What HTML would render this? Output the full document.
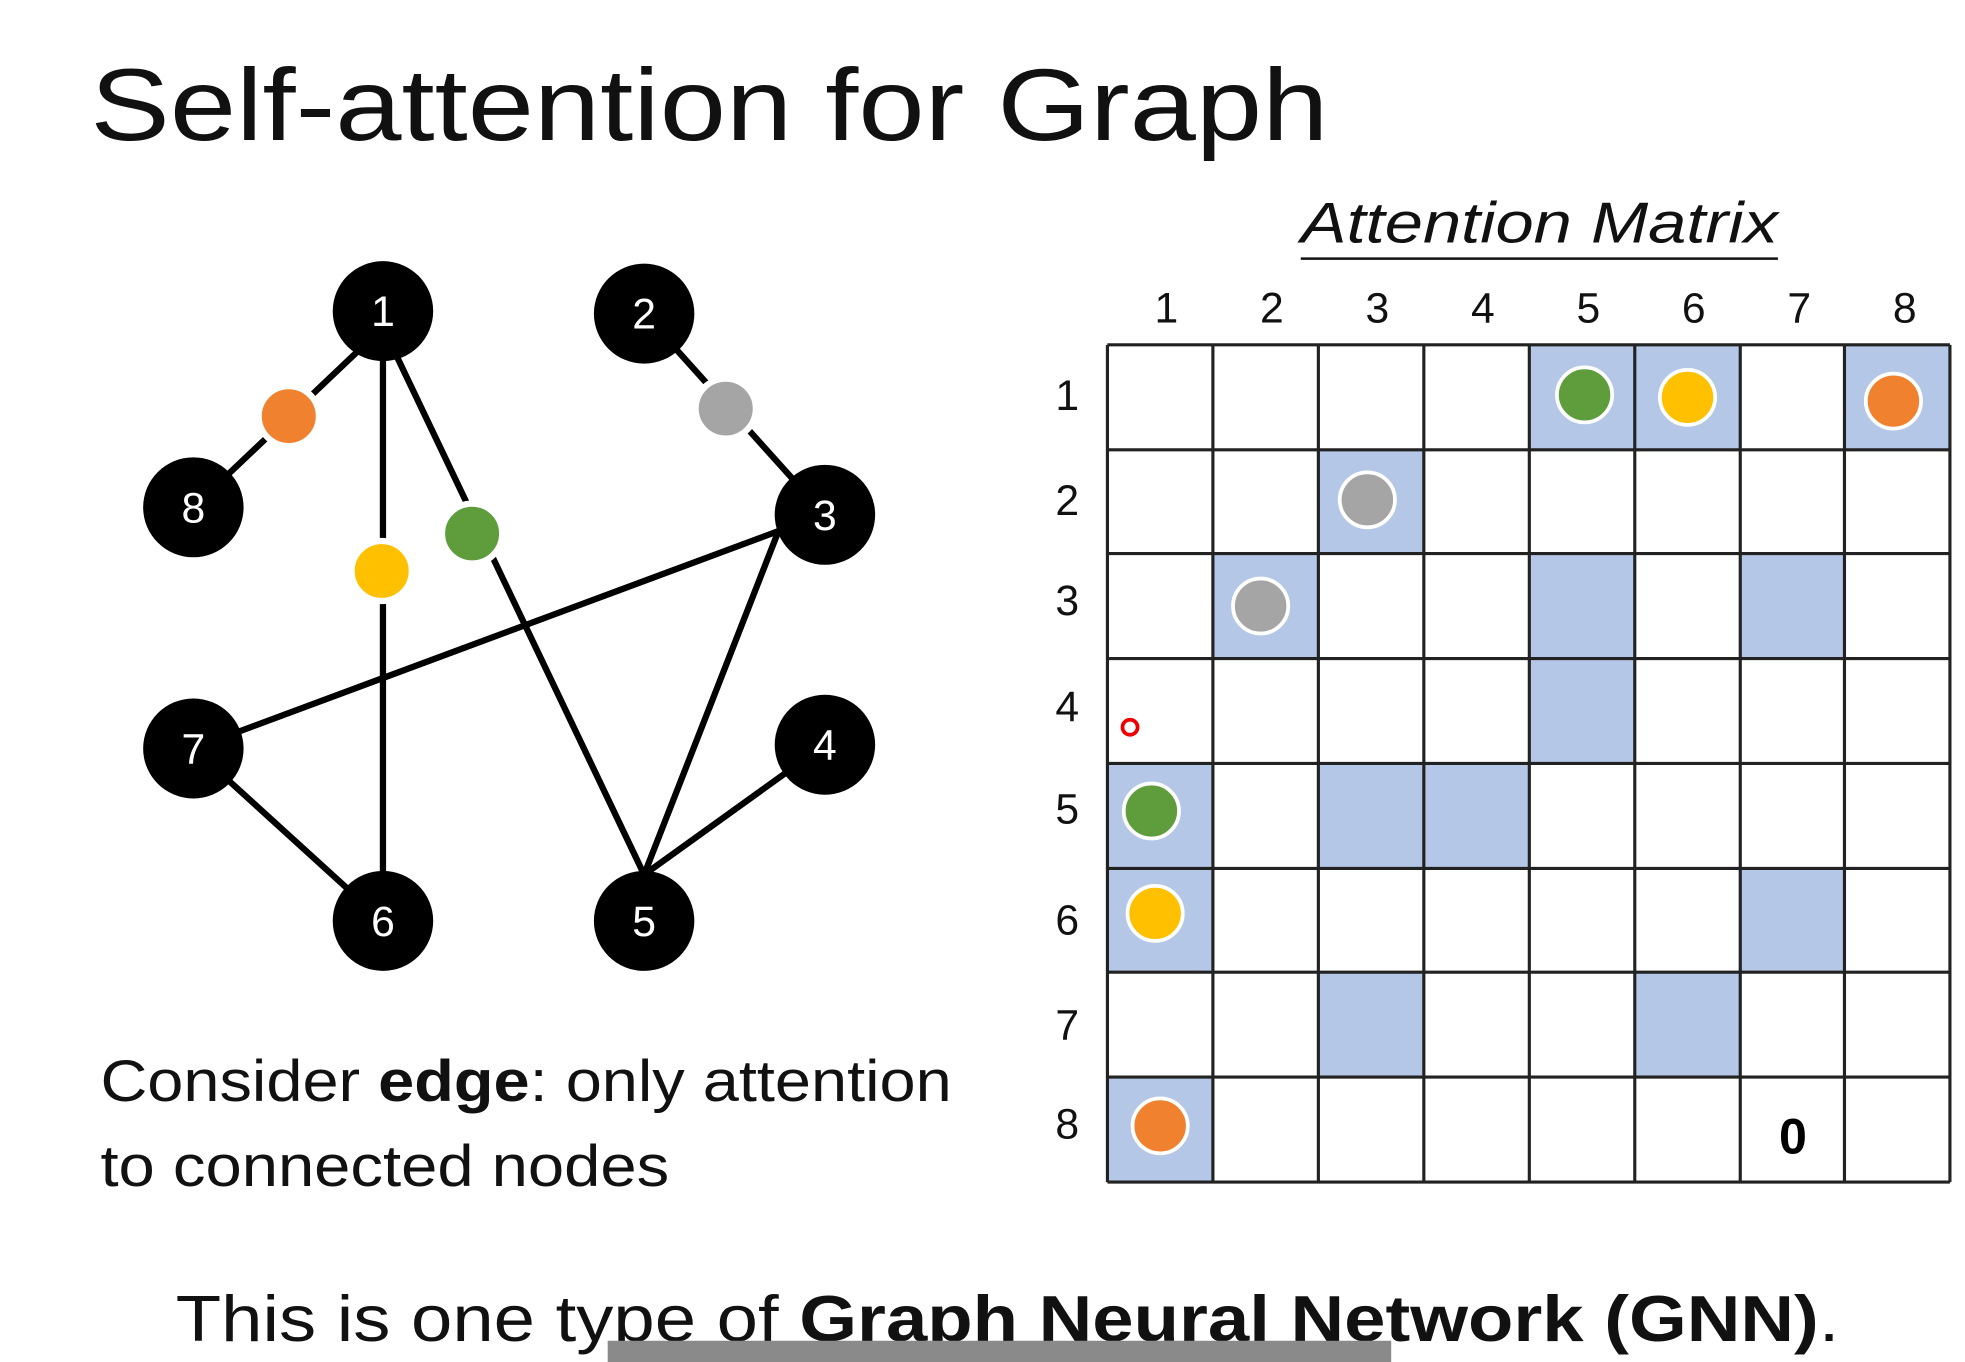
<!DOCTYPE html>
<html><head><meta charset="utf-8"><style>html,body{margin:0;padding:0;background:#fff;}svg{display:block}</style></head>
<body>
<svg width="1965" height="1362" viewBox="0 0 1565 1090" preserveAspectRatio="none" xmlns="http://www.w3.org/2000/svg" font-family="Liberation Sans, sans-serif">
<rect width="1565" height="1090" fill="#fff"/>
<text x="72" y="112" font-size="82" textLength="986" lengthAdjust="spacingAndGlyphs" fill="#111">Self-attention for Graph</text>
<!-- edges -->
<g stroke="#000" stroke-width="5" fill="none">
<line x1="305" y1="262" x2="154" y2="406"/>
<line x1="305" y1="262" x2="305" y2="737"/>
<line x1="305" y1="262" x2="513" y2="700"/>
<line x1="513" y1="251" x2="657" y2="412"/>
<line x1="620" y1="425" x2="154" y2="599"/>
<line x1="620" y1="425" x2="513" y2="700"/>
<line x1="657" y1="596" x2="513" y2="700"/>
<line x1="154" y1="599" x2="305" y2="737"/>
</g>
<g fill="#000">
<circle cx="305" cy="249" r="40"/><circle cx="513" cy="251" r="40"/>
<circle cx="154" cy="406" r="40"/><circle cx="657" cy="412" r="40"/>
<circle cx="154" cy="599" r="40"/><circle cx="657" cy="596" r="40"/>
<circle cx="305" cy="737" r="40"/><circle cx="513" cy="737" r="40"/>
</g>
<g fill="#fff" font-size="34" text-anchor="middle">
<text x="305" y="261">1</text><text x="513" y="263">2</text>
<text x="154" y="418">8</text><text x="657" y="424">3</text>
<text x="154" y="611">7</text><text x="657" y="608">4</text>
<text x="305" y="749">6</text><text x="513" y="749">5</text>
</g>
<g stroke="#fff" stroke-width="5">
<circle cx="230" cy="333" r="24" fill="#f0812f"/>
<circle cx="304" cy="457" r="24" fill="#ffc000"/>
<circle cx="376" cy="427" r="24" fill="#5e9c3c"/>
<circle cx="578" cy="327" r="24" fill="#a5a5a5"/>
</g>
<!-- matrix -->
<text x="1036" y="194" font-size="46" font-style="italic" textLength="380" lengthAdjust="spacingAndGlyphs" fill="#111">Attention Matrix</text>
<line x1="1036" y1="207" x2="1416" y2="207" stroke="#111" stroke-width="2"/>
<g fill="#b4c7e7">
<rect x="1218" y="276" width="84" height="84"/><rect x="1302" y="276" width="84" height="84"/><rect x="1469" y="276" width="84" height="84"/>
<rect x="1050" y="360" width="84" height="84"/>
<rect x="966" y="443" width="84" height="84"/><rect x="1218" y="443" width="84" height="84"/><rect x="1386" y="443" width="84" height="84"/>
<rect x="1218" y="527" width="84" height="84"/>
<rect x="882" y="611" width="84" height="84"/><rect x="1050" y="611" width="84" height="84"/><rect x="1134" y="611" width="84" height="84"/>
<rect x="882" y="695" width="84" height="84"/><rect x="1386" y="695" width="84" height="84"/>
<rect x="1050" y="778" width="84" height="84"/><rect x="1302" y="778" width="84" height="84"/>
<rect x="882" y="862" width="84" height="84"/>
</g>
<g stroke="#222" stroke-width="2.5">
<line x1="882" y1="276" x2="1553" y2="276"/><line x1="882" y1="360" x2="1553" y2="360"/>
<line x1="882" y1="443" x2="1553" y2="443"/><line x1="882" y1="527" x2="1553" y2="527"/>
<line x1="882" y1="611" x2="1553" y2="611"/><line x1="882" y1="695" x2="1553" y2="695"/>
<line x1="882" y1="778" x2="1553" y2="778"/><line x1="882" y1="862" x2="1553" y2="862"/>
<line x1="882" y1="946" x2="1553" y2="946"/>
<line x1="882" y1="276" x2="882" y2="946"/><line x1="966" y1="276" x2="966" y2="946"/>
<line x1="1050" y1="276" x2="1050" y2="946"/><line x1="1134" y1="276" x2="1134" y2="946"/>
<line x1="1218" y1="276" x2="1218" y2="946"/><line x1="1302" y1="276" x2="1302" y2="946"/>
<line x1="1386" y1="276" x2="1386" y2="946"/><line x1="1469" y1="276" x2="1469" y2="946"/>
<line x1="1553" y1="276" x2="1553" y2="946"/>
</g>
<g font-size="34" text-anchor="middle" fill="#111">
<text x="929" y="258">1</text><text x="1013" y="258">2</text><text x="1097" y="258">3</text><text x="1181" y="258">4</text>
<text x="1265" y="258">5</text><text x="1349" y="258">6</text><text x="1433" y="258">7</text><text x="1517" y="258">8</text>
<text x="850" y="328">1</text><text x="850" y="412">2</text><text x="850" y="492">3</text><text x="850" y="577">4</text>
<text x="850" y="659">5</text><text x="850" y="748">6</text><text x="850" y="832">7</text><text x="850" y="911">8</text>
</g>
<g stroke="#fff" stroke-width="3">
<circle cx="1262" cy="316" r="22" fill="#5e9c3c"/>
<circle cx="1344" cy="318" r="22" fill="#ffc000"/>
<circle cx="1508" cy="321" r="22" fill="#f0812f"/>
<circle cx="1089" cy="400" r="22" fill="#a5a5a5"/>
<circle cx="1004" cy="485" r="22" fill="#a5a5a5"/>
<circle cx="917" cy="649" r="22" fill="#5e9c3c"/>
<circle cx="920" cy="731" r="22" fill="#ffc000"/>
<circle cx="924" cy="901" r="22" fill="#f0812f"/>
</g>
<circle cx="900" cy="582" r="6" fill="none" stroke="#e00" stroke-width="3"/>
<text x="1428" y="923" font-size="40" font-weight="bold" text-anchor="middle" fill="#000">0</text>
<!-- bottom text -->
<text x="80" y="881" font-size="47" textLength="678" lengthAdjust="spacingAndGlyphs" fill="#111">Consider <tspan font-weight="bold">edge</tspan>: only attention</text>
<text x="80" y="949" font-size="47" textLength="453" lengthAdjust="spacingAndGlyphs" fill="#111">to connected nodes</text>
<text x="140" y="1073" font-size="52" textLength="1325" lengthAdjust="spacingAndGlyphs" fill="#111">This is one type of <tspan font-weight="bold">Graph Neural Network (GNN)</tspan>.</text>
<rect x="484" y="1073" width="624" height="17" fill="#8a8a8a"/>
</svg>
</body></html>
